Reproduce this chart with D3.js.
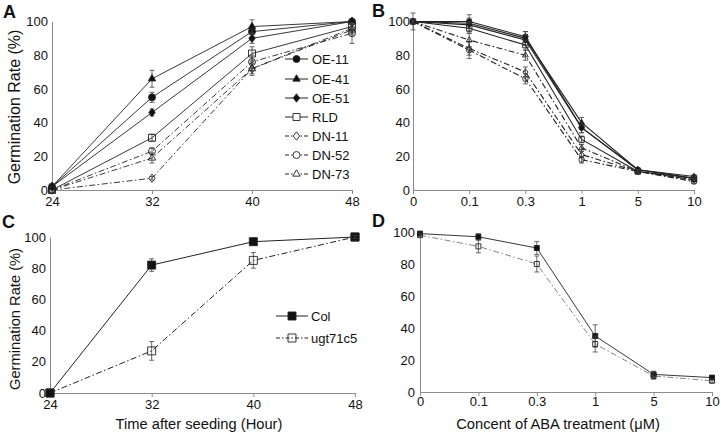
<!DOCTYPE html>
<html><head><meta charset="utf-8">
<script src="https://cdn.jsdelivr.net/npm/d3@7/dist/d3.min.js"></script>
<style>
body{margin:0;background:#fff}
svg{display:block}
text{font-family:"Liberation Sans",Arial,Helvetica,sans-serif;fill:#111}
</style>
</head><body>
<svg id="chart" width="721" height="436"></svg>
<script>
// ---------- DATA ----------
const hours = [24, 32, 40, 48];
const concLabels = ["0", "0.1", "0.3", "1", "5", "10"];
const yTicks = [0, 20, 40, 60, 80, 100];

const namesAB = ["OE-11", "OE-41", "OE-51", "RLD", "DN-11", "DN-52", "DN-73"];
// Panel A: germination vs time
const aOE11 = [2, 55, 94, 100];  const aOE11Err = [1, 3, 3, 1];
const aOE41 = [2, 66, 97, 100];  const aOE41Err = [1, 5, 4, 1];
const aOE51 = [2, 46, 90, 100];  const aOE51Err = [1, 2, 3, 1];
const aRLD  = [0, 31, 81, 97];   const aRLDErr  = [0, 2, 4, 2];
const aDN11 = [0, 7, 72, 96];    const aDN11Err = [0, 1, 3, 3];
const aDN52 = [0, 23, 76, 93];   const aDN52Err = [0, 2, 4, 6];
const aDN73 = [0, 19, 72, 95];   const aDN73Err = [0, 3, 4, 3];
// Panel B: germination vs ABA concentration
const bOE11 = [100, 100, 91, 37, 12, 7]; const bOE11Err = [1, 2, 3, 3, 1, 1];
const bOE41 = [100, 99, 90, 40, 12, 8];  const bOE41Err = [5, 5, 4, 3, 1, 1];
const bOE51 = [100, 98, 89, 37, 12, 7];  const bOE51Err = [1, 2, 3, 3, 1, 1];
const bRLD  = [100, 96, 86, 30, 11, 7];  const bRLDErr  = [1, 3, 3, 2, 1, 1];
const bDN11 = [100, 84, 70, 21, 11, 6];  const bDN11Err = [1, 4, 3, 2, 1, 1];
const bDN52 = [100, 83, 66, 18, 11, 5];  const bDN52Err = [1, 5, 3, 2, 1, 1];
const bDN73 = [100, 89, 80, 25, 11, 6];  const bDN73Err = [1, 4, 3, 2, 1, 1];
// Panel C
const namesCD = ["Col", "ugt71c5"];
const cCol = [0, 82, 97, 100];  const cColErr = [0, 4, 2, 1];
const cUgt = [0, 27, 85, 100];  const cUgtErr = [0, 6, 5, 1];
// Panel D
const dCol = [99, 97, 90, 35, 11, 9];  const dColErr = [1, 2, 4, 7, 2, 1];
const dUgt = [98, 91, 80, 30, 10, 7];  const dUgtErr = [1, 4, 5, 5, 2, 1];

// ---------- STYLES ----------
const DASHDOT = "6,2.5,1.5,2.5";
const stylesAB = [
  {shape: "circle",   fill: true,  dash: null},
  {shape: "triangle", fill: true,  dash: null},
  {shape: "diamond",  fill: true,  dash: null},
  {shape: "square",   fill: false, dash: null},
  {shape: "diamond",  fill: false, dash: DASHDOT},
  {shape: "circle",   fill: false, dash: DASHDOT},
  {shape: "triangle", fill: false, dash: DASHDOT}
];
const stylesCD = [
  {shape: "square", fill: true,  dash: null},
  {shape: "square", fill: false, dash: DASHDOT}
];

const svg = d3.select("#chart");
const FONT = '"Liberation Sans",Arial,Helvetica,sans-serif';

const diamondType = {
  draw(ctx, size) {
    const h = Math.sqrt(size);
    ctx.moveTo(0, -h * 0.6); ctx.lineTo(h * 0.45, 0);
    ctx.lineTo(0, h * 0.6); ctx.lineTo(-h * 0.45, 0); ctx.closePath();
  }
};
function symPath(shape, w) {
  if (shape === "circle") return d3.symbol(d3.symbolCircle, Math.PI * (w / 2) * (w / 2))();
  if (shape === "square") return d3.symbol(d3.symbolSquare, w * w)();
  if (shape === "triangle") return d3.symbol(d3.symbolTriangle, w * w * 0.48)();
  return d3.symbol(diamondType, w * w)();
}

function panel(cfg) {
  const g = svg.append("g");
  const x = cfg.x, y = cfg.y;
  // axes
  const ax = g.append("g").attr("transform", `translate(0,${y(0)})`)
    .call(d3.axisBottom(x).tickValues(cfg.xTicks).tickSize(4).tickSizeOuter(0).tickPadding(cfg.xPad));
  const ay = g.append("g").attr("transform", `translate(${cfg.xAxisPos},0)`)
    .call(d3.axisLeft(y).tickValues(yTicks).tickSize(0).tickSizeOuter(0).tickPadding(cfg.yPad));
  [ax, ay].forEach(a => {
    a.select(".domain").attr("stroke", "#8c8c8c").attr("stroke-width", 1);
    a.selectAll(".tick line").attr("stroke", "#8c8c8c");
    a.selectAll("text").attr("font-size", 13).attr("font-family", FONT).attr("fill", "#111");
  });
  const xs = cfg.xTicks;
  cfg.series.forEach((s, i) => {
    const st = cfg.styles[i];
    const pts = s.vals.map((v, j) => ({x: x(xs[j]), y: y(v), lo: y(v - s.err[j]), hi: y(v + s.err[j])}));
    // line
    g.append("path").attr("d", d3.line().x(d => d.x).y(d => d.y)(pts))
      .attr("fill", "none").attr("stroke", cfg.lineColor ? cfg.lineColor(i) : "#222")
      .attr("stroke-width", cfg.lw).attr("stroke-dasharray", st.dash);
    // error bars
    pts.forEach(p => {
      if (Math.abs(p.lo - p.hi) < 1) return;
      g.append("line").attr("x1", p.x).attr("x2", p.x).attr("y1", p.lo).attr("y2", p.hi)
        .attr("stroke", "#444").attr("stroke-width", 0.8);
      [p.lo, p.hi].forEach(yy => g.append("line").attr("x1", p.x - 2.5).attr("x2", p.x + 2.5)
        .attr("y1", yy).attr("y2", yy).attr("stroke", "#444").attr("stroke-width", 0.8));
    });
    // markers
    pts.forEach(p => {
      g.append("path").attr("d", symPath(st.shape, cfg.ms))
        .attr("transform", `translate(${p.x},${p.y})`)
        .attr("fill", st.fill ? "#111" : "none")
        .attr("stroke", "#222").attr("stroke-width", 0.9);
    });
  });
  // legend
  if (cfg.legend) {
    const L = cfg.legend;
    cfg.series.forEach((s, i) => {
      const st = cfg.styles[i];
      const yy = L.ys[i];
      g.append("line").attr("x1", L.x0).attr("x2", L.x1).attr("y1", yy).attr("y2", yy)
        .attr("stroke", "#222").attr("stroke-width", 1).attr("stroke-dasharray", st.dash ? "4,2,1.5,2" : null);
      g.append("path").attr("d", symPath(st.shape, L.ms)).attr("transform", `translate(${L.mx},${yy})`)
        .attr("fill", st.fill ? "#111" : (L.openFill || "none")).attr("stroke", "#222").attr("stroke-width", 0.9);
      g.append("text").attr("x", L.tx).attr("y", yy).attr("dy", "0.36em")
        .attr("font-size", L.fs).text(s.name);
    });
  }
}

const xA = d3.scaleLinear().domain([24, 48]).range([52, 352]);
const yA = d3.scaleLinear().domain([0, 100]).range([190, 21.5]);
const xB = d3.scalePoint().domain(concLabels).range([413, 694]);
const yB = d3.scaleLinear().domain([0, 100]).range([190, 21.5]);
const xC = d3.scaleLinear().domain([24, 48]).range([50, 355]);
const yC = d3.scaleLinear().domain([0, 100]).range([393, 237]);
const xD = d3.scalePoint().domain(concLabels).range([420, 712]);
const yD = d3.scaleLinear().domain([0, 100]).range([392, 232]);

const aVals = [aOE11, aOE41, aOE51, aRLD, aDN11, aDN52, aDN73];
const aErrs = [aOE11Err, aOE41Err, aOE51Err, aRLDErr, aDN11Err, aDN52Err, aDN73Err];
const bVals = [bOE11, bOE41, bOE51, bRLD, bDN11, bDN52, bDN73];
const bErrs = [bOE11Err, bOE41Err, bOE51Err, bRLDErr, bDN11Err, bDN52Err, bDN73Err];

panel({x: xA, y: yA, xTicks: hours, xAxisPos: 52, xPad: 3, yPad: 4, lw: 0.9, ms: 7,
  styles: stylesAB,
  series: namesAB.map((n, i) => ({name: n, vals: aVals[i], err: aErrs[i]})),
  legend: {x0: 285, x1: 308, mx: 296.5, tx: 312, ms: 7, fs: 13, openFill: "#fff",
           ys: [59, 79, 98, 117, 136, 155, 174]}
});
panel({x: xB, y: yB, xTicks: concLabels, xAxisPos: 413, xPad: 3, yPad: 3, lw: 1.1, ms: 5.5,
  styles: stylesAB,
  series: namesAB.map((n, i) => ({name: n, vals: bVals[i], err: bErrs[i]}))
});
panel({x: xC, y: yC, xTicks: hours, xAxisPos: 50, xPad: 3, yPad: 4, lw: 1, ms: 8,
  styles: stylesCD,
  series: [{name: namesCD[0], vals: cCol, err: cColErr}, {name: namesCD[1], vals: cUgt, err: cUgtErr}],
  legend: {x0: 276, x1: 308, mx: 292, tx: 311, ms: 8, fs: 13, ys: [316, 338]}
});
panel({x: xD, y: yD, xTicks: concLabels, xAxisPos: 420, xPad: 1, yPad: 5, lw: 0.9, ms: 5,
  styles: stylesCD,
  lineColor: i => i === 0 ? "#222" : "#777",
  series: [{name: namesCD[0], vals: dCol, err: dColErr}, {name: namesCD[1], vals: dUgt, err: dUgtErr}]
});

// panel letters
[["A", 3, 18], ["B", 372, 17], ["C", 2, 228], ["D", 372, 227]].forEach(([t, xx, yy]) =>
  svg.append("text").attr("x", xx).attr("y", yy).attr("font-size", 18).attr("font-weight", "bold").text(t));

// axis titles
svg.append("text").attr("transform", "translate(20,107) rotate(-90)").attr("text-anchor", "middle")
  .attr("font-size", 16).text("Germination Rate (%)");
svg.append("text").attr("transform", "translate(20,319) rotate(-90)").attr("text-anchor", "middle")
  .attr("font-size", 14.7).text("Germination Rate (%)");
svg.append("text").attr("x", 199).attr("y", 429).attr("text-anchor", "middle")
  .attr("font-size", 14.7).text("Time after seeding (Hour)");
svg.append("text").attr("x", 558).attr("y", 429).attr("text-anchor", "middle")
  .attr("font-size", 14.7).text("Concent of ABA treatment (μM)");
</script>
</body></html>
